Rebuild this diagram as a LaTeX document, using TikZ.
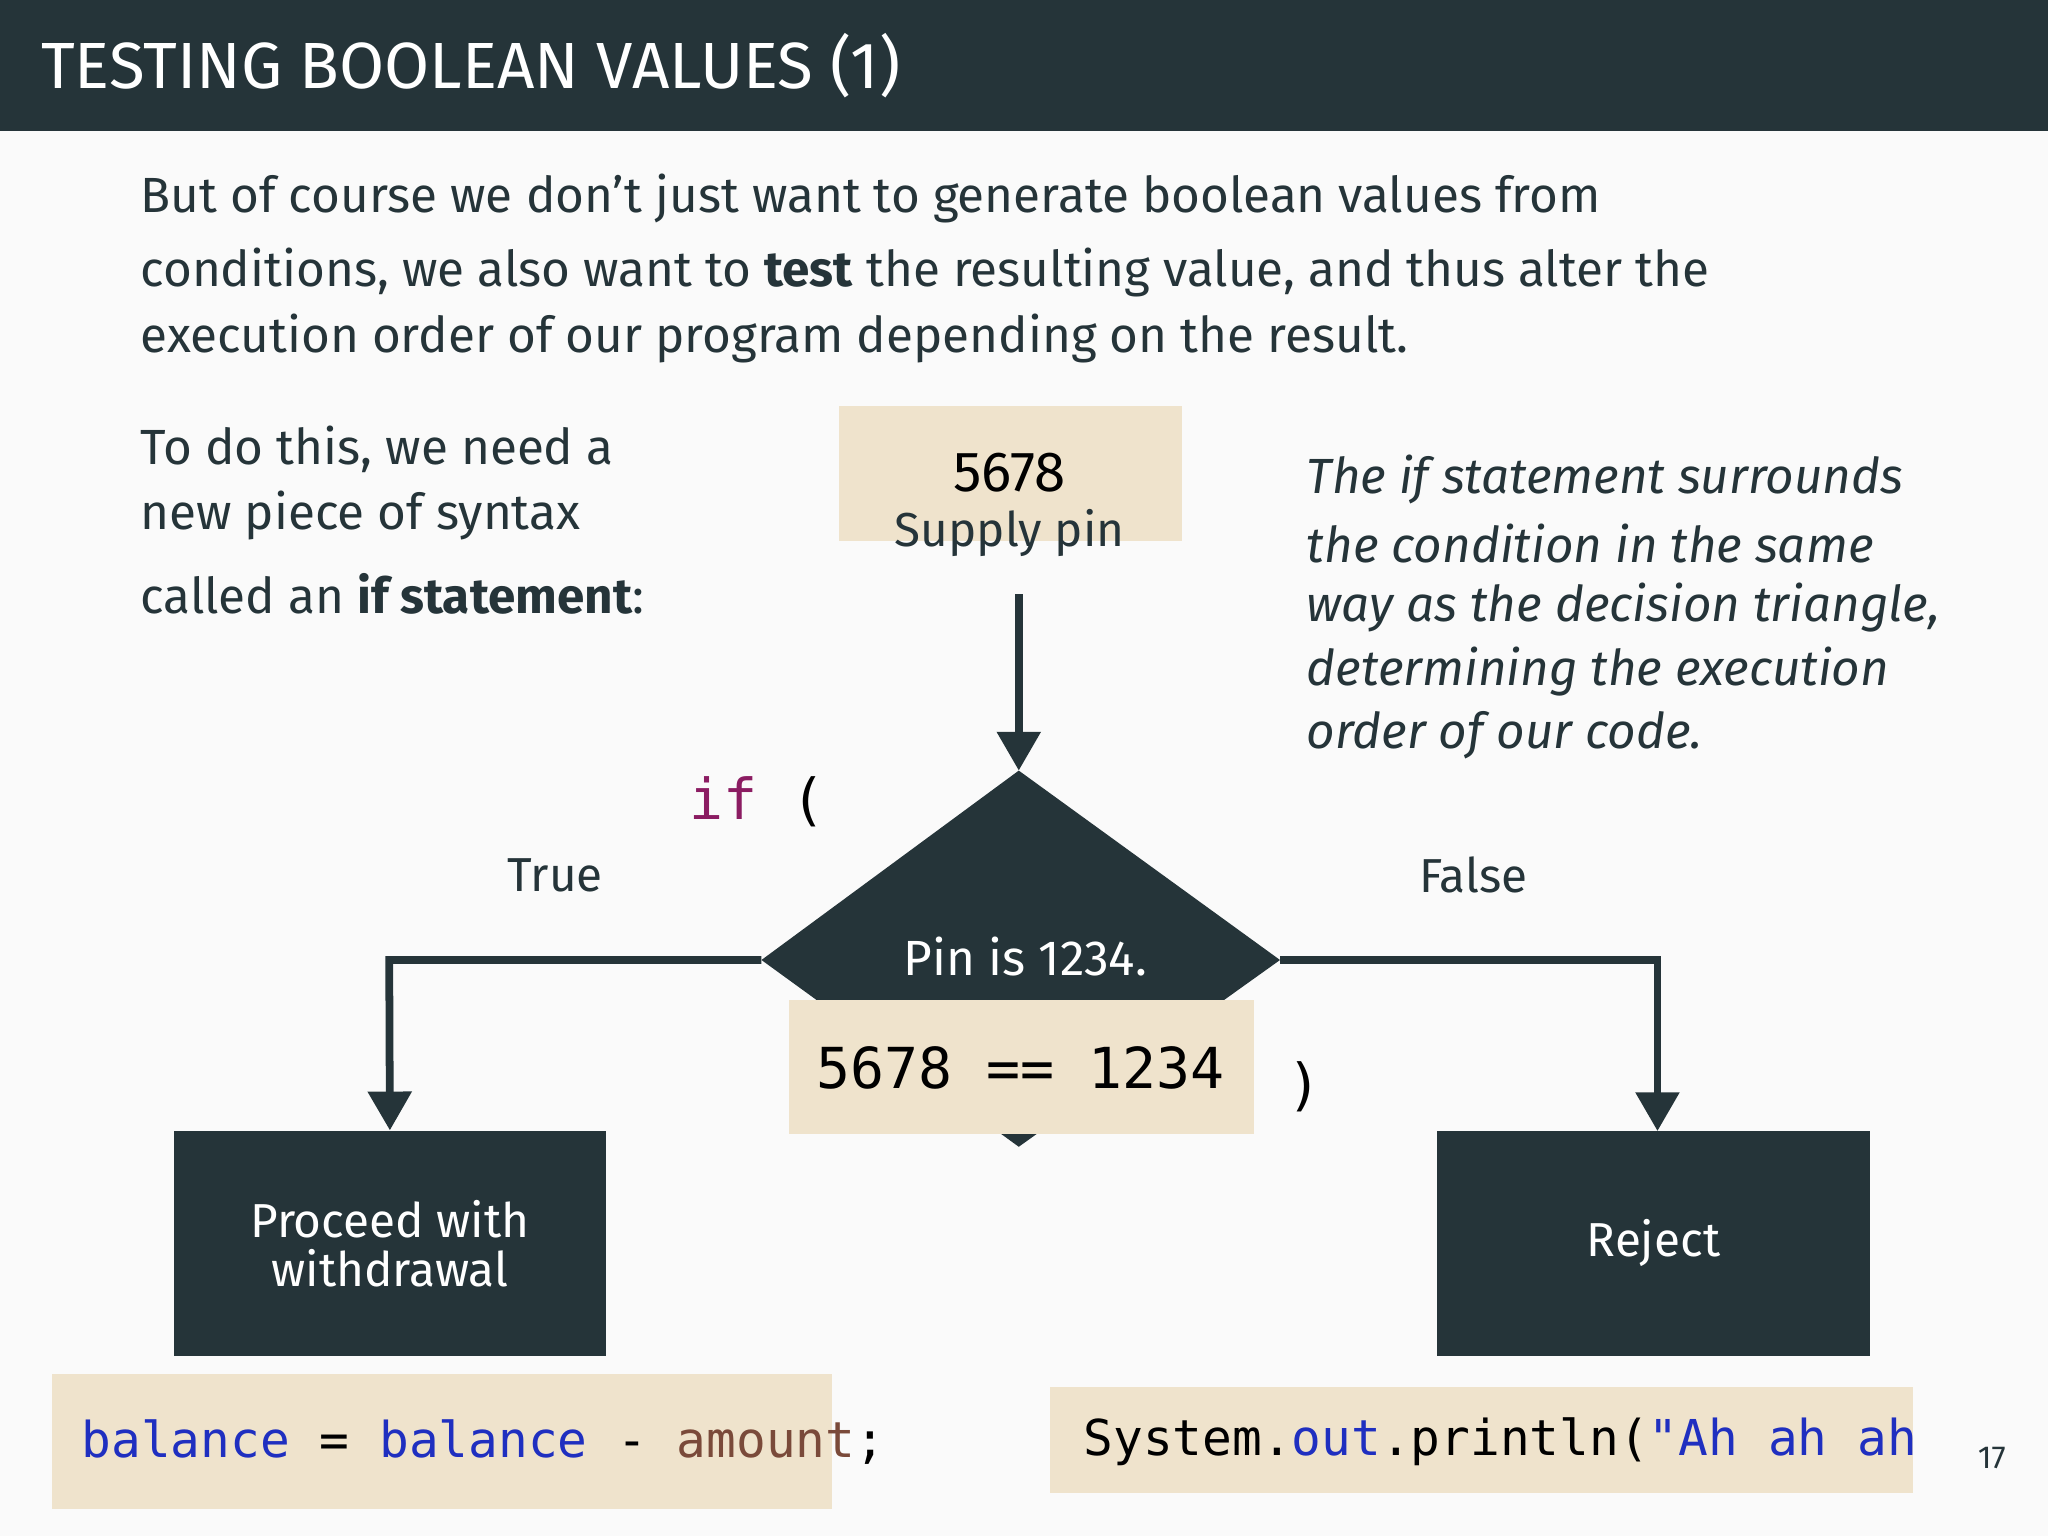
\documentclass[tikz,border=0pt]{standalone}
\usepackage{fontspec}
\setmainfont{Fira Sans}
\setmonofont{DejaVu Sans Mono}
\usetikzlibrary{arrows.meta}
\definecolor{dark}{HTML}{253439}
\definecolor{tan}{HTML}{EFE3CC}
\definecolor{bg}{HTML}{FAFAFA}
\definecolor{kw}{HTML}{8B1C62}
\definecolor{cblue}{HTML}{1F2FC0}
\definecolor{cbrown}{HTML}{7A4A3A}
\tikzset{
 txt/.style={anchor=west,inner sep=0pt,font=\fontsize{14}{16}\selectfont,text=dark},
 tanbox/.style={fill=tan,draw=none},
 darkbox/.style={fill=dark,draw=none,text=white,align=center,font=\fontsize{13.5}{16}\selectfont},
 conn/.style={draw=dark,line width=2.2pt,-{Triangle[length=11pt,width=12pt]}},
}
\begin{document}
\begin{tikzpicture}[x=0.013cm,y=-0.013cm]
\fill[bg] (0,0) rectangle (1568,1176);
\fill[dark] (0,0) rectangle (1568,100);
\node[anchor=west,text=white,font=\fontsize{18.5}{20}\selectfont] (title) at (22,50) {TESTING BOOLEAN VALUES (1)};
\node[txt] (p1) at (107,152) {But of course we don’t just want to generate boolean values from};
\node[txt] (p2) at (107,209) {conditions, we also want to \textbf{test} the resulting value, and thus alter the};
\node[txt] (p3) at (107,259) {execution order of our program depending on the result.};
\node[txt] (l1) at (107,344) {To do this, we need a};
\node[txt] (l2) at (107,395) {new piece of syntax};
\node[txt] (l3) at (107,455) {called an \textbf{if statement}:};
\foreach \t [count=\i] in {The if statement surrounds,the condition in the same,way as the decision triangle,,determining the execution,order of our code.}{}
\node[txt,font=\itshape\fontsize{14}{16}\selectfont] (r1) at (1000,367) {The if statement surrounds};
\node[txt,font=\itshape\fontsize{14}{16}\selectfont] (r2) at (1000,416) {the condition in the same};
\node[txt,font=\itshape\fontsize{14}{16}\selectfont] (r3) at (1000,465) {way as the decision triangle,};
\node[txt,font=\itshape\fontsize{14}{16}\selectfont] (r4) at (1000,514) {determining the execution};
\node[txt,font=\itshape\fontsize{14}{16}\selectfont] (r5) at (1000,563) {order of our code.};
% supply box
\fill[tan] (642,311) rectangle (905,414);
\node[font=\fontsize{16}{18}\selectfont,text=black] (n5678) at (773,362) {5678};
\node[font=\fontsize{13.5}{16}\selectfont,text=dark] (supply) at (773,408) {Supply pin};
\coordinate (astart) at (780,455);
\coordinate (dtop) at (780,590);
\draw[conn] (astart) -- (dtop);
% diamond
\fill[dark] (780,590) -- (980,735) -- (780,878) -- (583,735) -- cycle;
\coordinate (dl) at (583,735);
\coordinate (dr) at (980,735);
\node[text=white,font=\fontsize{14}{16}\selectfont] (pin) at (785,732) {Pin is 1234.};
\fill[tan] (604,766) rectangle (960,868);
\node[font=\ttfamily\fontsize{16}{18}\selectfont,text=black] (cond) at (781,818) {5678 == 1234};
\node[anchor=west,inner sep=0pt,font=\ttfamily\fontsize{16}{18}\selectfont] (if) at (527,614) {\textcolor{kw}{if} (};
\node[anchor=west,inner sep=0pt,font=\ttfamily\fontsize{16}{18}\selectfont] (close) at (985,832) {)};
\node[font=\fontsize{13.5}{16}\selectfont,text=dark] (true) at (425,670) {True};
\node[font=\fontsize{13.5}{16}\selectfont,text=dark] (false) at (1128,670) {False};
% boxes
\node[darkbox,minimum width=331*0.013cm,minimum height=172*0.013cm] (proceed) at (298.5,952) {Proceed with\\[-2pt]withdrawal};
\node[darkbox,minimum width=332*0.013cm,minimum height=172*0.013cm] (reject) at (1266,952) {Reject};
\draw[conn] (dl) -- (298,735) -- (proceed.north);
\draw[conn] (dr) -- (1269,735) -- (1269,866);
% code boxes
\fill[tan] (40,1052) rectangle (637,1155);
\node[anchor=west,inner sep=0pt,font=\ttfamily\fontsize{14}{16}\selectfont] (code1) at (62,1104) {\textcolor{cblue}{balance} = \textcolor{cblue}{balance} - \textcolor{cbrown}{amount};};
\fill[tan] (804,1062) rectangle (1465,1143);
\node[anchor=west,inner sep=0pt,font=\ttfamily\fontsize{14}{16}\selectfont] (code2) at (829,1104) {System.\textcolor{cblue}{out}.println(\textcolor{cblue}{"Ah ah ah}};
\node[font=\fontsize{9}{10}\selectfont,text=dark] (pg) at (1525,1116) {17};
\end{tikzpicture}
\end{document}
